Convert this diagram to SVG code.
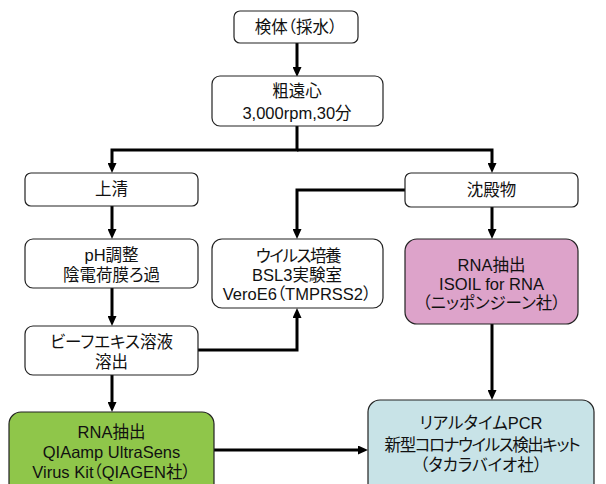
<svg xmlns="http://www.w3.org/2000/svg" width="606" height="484" viewBox="0 0 606 484">
<defs>
<style>
.box{fill:#ffffff;stroke:#222;stroke-width:1.2}
.pink{fill:#DDA3CA;stroke:#222;stroke-width:1.2}
.green{fill:#8FC64A;stroke:#222;stroke-width:1.2}
.blue{fill:#C8E3E7;stroke:#222;stroke-width:1.2}
text{font-family:"Liberation Sans","Noto Sans CJK JP",sans-serif;font-size:16.5px;fill:#111;text-anchor:middle;font-feature-settings:"palt" 1}
.tight{letter-spacing:-1.4px}
.conn path{fill:none;stroke:#000;stroke-width:3;marker-end:url(#ah)}
</style>
<marker id="ah" viewBox="0 0 10 9" refX="2" refY="4.5" markerWidth="10" markerHeight="9" markerUnits="userSpaceOnUse" orient="auto">
<path d="M0,0 L10,4.5 L0,9 z" fill="#000"/>
</marker>
</defs>
<rect width="606" height="484" fill="#ffffff"/>

<g class="conn" id="connectors">
<path d="M297 43 V69"/>
<path d="M297 126 V150 H112 V165"/>
<path d="M297 150 H492 V165"/>
<path d="M405 190 H297 V231"/>
<path d="M112 206 V231"/>
<path d="M112 288 V318"/>
<path d="M198 350 H297 V316"/>
<path d="M112 375 V404"/>
<path d="M492 207 V231"/>
<path d="M492 324 V392"/>
<path d="M214 450 H360"/>
</g>

<g id="n1"><rect class="box" x="234" y="11" width="124" height="32" rx="6"/>
<text x="296" y="33">検体（採水）</text></g>

<g id="n2"><rect class="box" x="212" y="76" width="171" height="50" rx="8"/>
<text x="297" y="97">粗遠心</text>
<text x="297" y="119">3,000rpm,30分</text></g>

<g id="n3"><rect class="box" x="25" y="173" width="173" height="33" rx="6"/>
<text x="111.5" y="195">上清</text></g>

<g id="n4"><rect class="box" x="405" y="173" width="173" height="34" rx="6"/>
<text x="491.5" y="196">沈殿物</text></g>

<g id="n5"><rect class="box" x="25" y="239" width="173" height="49" rx="8"/>
<text x="111.5" y="261">pH調整</text>
<text x="111.5" y="281">陰電荷膜ろ過</text></g>

<g id="n6"><rect class="box" x="212" y="239" width="171" height="69" rx="10"/>
<text x="298" y="262" class="tight">ウイルス培養</text>
<text x="297" y="281">BSL3実験室</text>
<text x="297" y="300">VeroE6（TMPRSS2）</text></g>

<g id="n7"><rect class="pink" x="405" y="239" width="173" height="85" rx="12"/>
<text x="491.5" y="271">RNA抽出</text>
<text x="491.5" y="290">ISOIL for RNA</text>
<text x="491.5" y="309">（ニッポンジーン社）</text></g>

<g id="n8"><rect class="box" x="25" y="326" width="173" height="49" rx="8"/>
<text x="111.5" y="348">ビーフエキス溶液</text>
<text x="111.5" y="368">溶出</text></g>

<g id="n9"><rect class="green" x="9" y="412" width="205" height="95" rx="12"/>
<text x="111.5" y="438">RNA抽出</text>
<text x="111.5" y="458">QIAamp UltraSens</text>
<text x="111.5" y="478">Virus Kit（QIAGEN社）</text></g>

<g id="n10"><rect class="blue" x="368" y="400" width="226" height="100" rx="12"/>
<text x="481" y="429">リアルタイムPCR</text>
<text x="482" y="451" class="tight">新型コロナウイルス検出キット</text>
<text x="481" y="471">（タカラバイオ社）</text></g>
</svg>
